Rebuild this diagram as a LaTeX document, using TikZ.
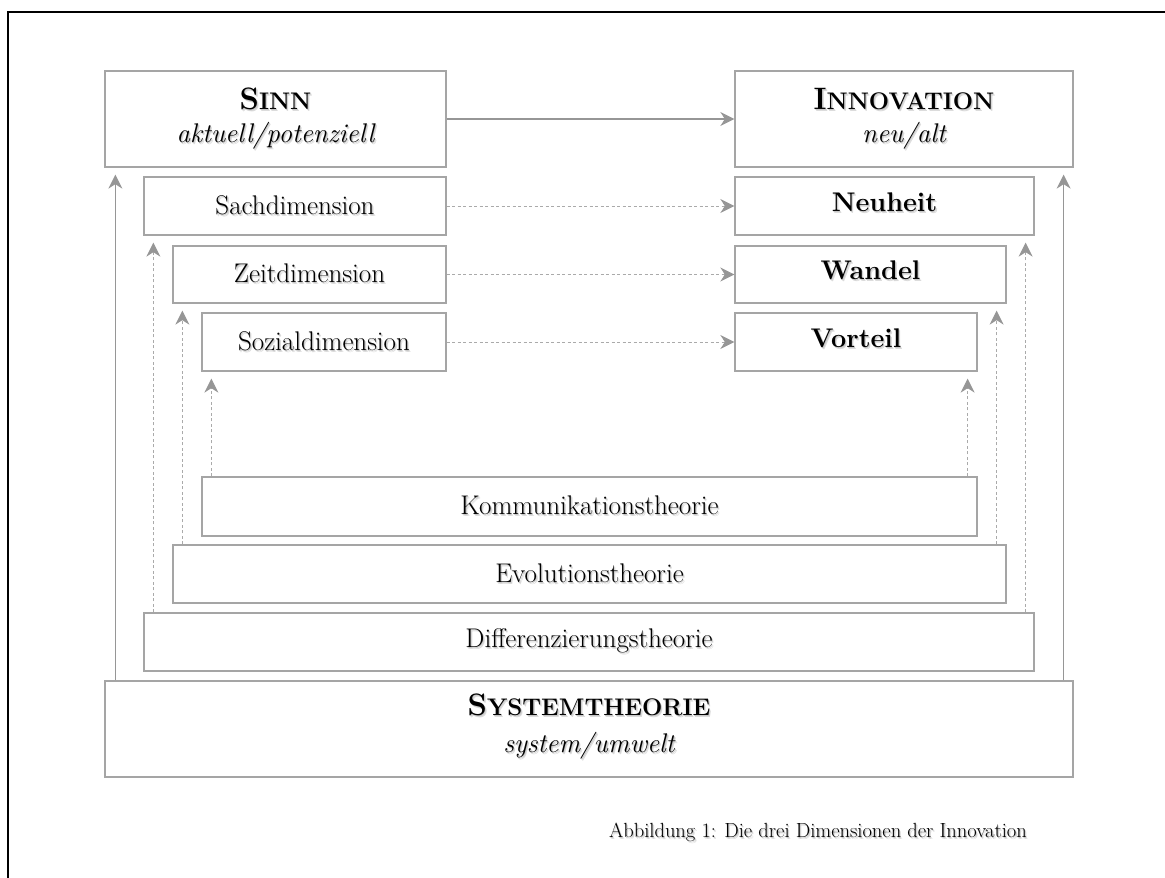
\documentclass[tikz,border=0pt]{standalone}
\usetikzlibrary{arrows.meta}
\definecolor{boxline}{RGB}{165,165,165}
\definecolor{arrcol}{RGB}{150,150,150}
\definecolor{dashcol}{RGB}{170,170,170}
\newcommand{\shd}[1]{\leavevmode\rlap{\hspace{1.6pt}\raisebox{-1.8pt}{\color{black!14}#1}}\rlap{\hspace{0.8pt}\raisebox{-0.9pt}{\color{black!22}#1}}#1}
\newcommand{\bigsc}{\fontsize{31}{36}\selectfont}
\newcommand{\smallsc}{\fontsize{24}{28}\selectfont}
\begin{document}
\begin{tikzpicture}[x=1pt,y=-1pt,
  box/.style={draw=boxline, line width=1.3pt, fill=white, inner sep=0pt, anchor=center},
  lbl/.style={font=\fontsize{27}{32}\selectfont, inner sep=0pt, anchor=center},
  sarr/.style={draw=arrcol, line width=1.1pt, -{Stealth[length=14pt,width=14pt,inset=4.5pt]}},
  darr/.style={draw=dashcol, line width=1pt, dash pattern=on 3pt off 2.5pt, -{Stealth[length=14pt,width=14pt,inset=4.5pt,color=arrcol]}},
  vgap/.style={shorten >=7pt}
]
\useasboundingbox (0,0) rectangle (1165,878);
\fill[white] (0,0) rectangle (1165,878);
% frame
\draw[line width=2pt] (8,878) -- (8,12) -- (1165,12);

% top boxes
\node[box, minimum width=341pt, minimum height=96pt] (sinn) at (275.5,119) {};
\node[box, minimum width=338pt, minimum height=96pt] (inno) at (904,119) {};
\node[lbl] (sinnT) at (275.5,100) {\shd{\bfseries\bigsc S\smallsc INN}};
\node[lbl] (sinnS) at (275.5,137) {\shd{\itshape aktuell/potenziell}};
\node[lbl] (innoT) at (904,100) {\shd{\bfseries\bigsc I\smallsc NNOVATION}};
\node[lbl] (innoS) at (904,137) {\shd{\itshape neu/alt}};

% dimension boxes
\node[box, minimum width=302pt, minimum height=58pt] (sach) at (295,206) {};
\node[box, minimum width=273pt, minimum height=57pt] (zeit) at (309.5,274.5) {};
\node[box, minimum width=244pt, minimum height=58pt] (sozi) at (324,342) {};
\node[lbl] at (sach.center) {\shd{Sachdimension}};
\node[lbl] at (zeit.center) {\shd{Zeitdimension}};
\node[lbl] at (sozi.center) {\shd{Sozialdimension}};

\node[box, minimum width=299pt, minimum height=58pt] (neu) at (884.5,206) {};
\node[box, minimum width=271pt, minimum height=57pt] (wan) at (870.5,274.5) {};
\node[box, minimum width=242pt, minimum height=58pt] (vor) at (856,342) {};
\node[lbl] at ([yshift=3pt]neu.center) {\shd{\bfseries Neuheit}};
\node[lbl] at ([yshift=3pt]wan.center) {\shd{\bfseries Wandel}};
\node[lbl] at ([yshift=3pt]vor.center) {\shd{\bfseries Vorteil}};

% theory boxes
\node[box, minimum width=775pt, minimum height=59pt] (komm) at (589.5,506.5) {};
\node[box, minimum width=833pt, minimum height=58pt] (evol) at (589.5,574) {};
\node[box, minimum width=890pt, minimum height=58pt] (diff) at (589,642) {};
\node[box, minimum width=968pt, minimum height=96pt] (sys) at (589,729) {};
\node[lbl] at (komm.center) {\shd{Kommunikationstheorie}};
\node[lbl] at (evol.center) {\shd{Evolutionstheorie}};
\node[lbl] at (diff.center) {\shd{Differenzierungstheorie}};
\node[lbl] (sysT) at (589,706) {\shd{\bfseries\bigsc S\smallsc YSTEMTHEORIE}};
\node[lbl] (sysS) at (589,747) {\shd{\itshape system/umwelt}};

% horizontal arrows
\draw[sarr] (sinn.east) -- (inno.west);
\draw[darr] (sach.east) -- (neu.west);
\draw[darr] (zeit.east) -- (wan.west);
\draw[darr] (sozi.east) -- (vor.west);

% vertical arrows left
\draw[sarr, vgap] ([xshift=11pt]sys.north west) -- ([xshift=11pt]sinn.south west);
\draw[darr, vgap] ([xshift=10pt]diff.north west) -- ([xshift=10pt]sach.south west);
\draw[darr, vgap] ([xshift=10pt]evol.north west) -- ([xshift=10pt]zeit.south west);
\draw[darr, vgap] ([xshift=10pt]komm.north west) -- ([xshift=10pt]sozi.south west);
% vertical arrows right
\draw[sarr, vgap] ([xshift=-10pt]sys.north east) -- ([xshift=-10pt]inno.south east);
\draw[darr, vgap] ([xshift=-9pt]diff.north east) -- ([xshift=-9pt]neu.south east);
\draw[darr, vgap] ([xshift=-10pt]evol.north east) -- ([xshift=-10pt]wan.south east);
\draw[darr, vgap] ([xshift=-10pt]komm.north east) -- ([xshift=-10pt]vor.south east);

% caption
\node[font=\fontsize{20.5}{24}\selectfont, anchor=east, inner sep=0pt] (cap) at (1027,833) {\shd{Abbildung 1: Die drei Dimensionen der Innovation}};
\end{tikzpicture}
\end{document}
